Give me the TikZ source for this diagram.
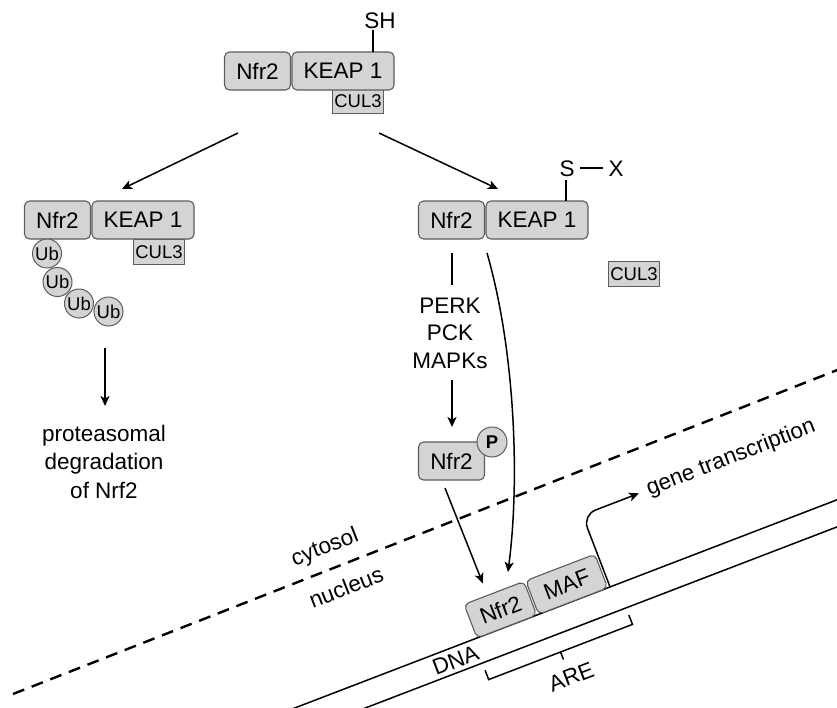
\documentclass[tikz,border=0pt]{standalone}
\usepackage{fontspec}
\setmainfont{Liberation Sans}
\usetikzlibrary{arrows.meta,calc}
\definecolor{boxfill}{HTML}{D4D4D4}
\definecolor{boxline}{HTML}{5C5C5C}
\newcommand\mainsize{\fontsize{22.5}{27}\selectfont}
\newcommand\culsize{\fontsize{18.5}{20}\selectfont}
\newcommand\ubsize{\fontsize{18.5}{20}\selectfont}
\tikzset{
  box/.style={draw=boxline, fill=boxfill, rounded corners=5pt, line width=1.1pt,
    minimum height=38pt, inner sep=0pt, font=\mainsize},
  culbox/.style={draw=boxline, fill=boxfill, line width=1.1pt, minimum width=51pt,
    minimum height=25pt, inner sep=0pt, font=\culsize},
  ub/.style={circle, draw=boxline, fill=boxfill, line width=1pt, minimum size=29pt,
    inner sep=0pt, font=\ubsize},
  lbl/.style={inner sep=0pt, font=\mainsize},
  arr/.style={-{Stealth[length=10pt,width=9pt,inset=2.5pt]}, line width=1.5pt},
  ln/.style={line width=1.5pt},
  membrane/.style={line width=2.4pt, dash pattern=on 12pt off 8pt},
}
\begin{document}
\begin{tikzpicture}[x=1pt,y=-1pt]
\useasboundingbox (0,0) rectangle (837,707);
\clip (0,0) rectangle (837,707);

% ---------- top complex ----------
\node[culbox] (tcul) at (358,101) {CUL3};
\node[box, minimum width=66pt] (tnfr) at (257.5,71) {Nfr2};
\node[box, minimum width=102pt] (tkeap) at (343,71) {KEAP 1};
\node[lbl] (sh) at (380,21) {SH};
\coordinate (shb) at (373,52);
\coordinate (sht) at (373,30);
\draw[ln] (shb) -- (sht);

% ---------- left complex ----------
\node[culbox] (lcul) at (159,252) {CUL3};
\node[box, minimum width=66pt] (lnfr) at (57.5,220) {Nfr2};
\node[box, minimum width=102pt] (lkeap) at (143,220) {KEAP 1};
\node[ub] (ub1) at (47,253.5) {Ub};
\node[ub] (ub2) at (57.5,282) {Ub};
\node[ub] (ub3) at (79,303.5) {Ub};
\node[ub] (ub4) at (108.5,311.5) {Ub};

% ---------- right complex ----------
\node[box, minimum width=66pt] (rnfr) at (451.5,220) {Nfr2};
\node[box, minimum width=102pt] (rkeap) at (537,220) {KEAP 1};
\node[lbl] (s) at (567,169) {S};
\node[lbl] (x) at (616,169) {X};
\coordinate (sb) at (566,201);
\coordinate (st) at (566,180);
\draw[ln] (sb) -- (st);
\coordinate (dxa) at (580,168);
\coordinate (dxb) at (603,168);
\draw[ln] (dxa) -- (dxb);
\node[culbox] (rcul) at (634,274) {CUL3};

% ---------- top arrows ----------
\coordinate (tl) at (238,133);
\coordinate (tr) at (379,133);
\coordinate (el) at (122,189);
\coordinate (er) at (498,189);
\draw[arr] (tl) -- (el);
\draw[arr] (tr) -- (er);

% ---------- degradation ----------
\coordinate (da) at (105,348);
\coordinate (db) at (105,406);
\draw[arr] (da) -- (db);
\node[lbl, anchor=base] (deg1) at (104,441) {proteasomal};
\node[lbl, anchor=base] (deg2) at (104,469.5) {degradation};
\node[lbl, anchor=base] (deg3) at (104,498) {of Nrf2};

% ---------- kinases ----------
\coordinate (ka) at (452,253);
\coordinate (kb) at (452,285);
\draw[ln] (ka) -- (kb);
\node[lbl, anchor=base] (perk) at (450,313) {PERK};
\node[lbl, anchor=base] (pck) at (450,340) {PCK};
\node[lbl, anchor=base] (mapk) at (450,368) {MAPKs};
\coordinate (ma) at (452,380);
\coordinate (mb) at (452,427);
\draw[arr] (ma) -- (mb);
\node[box, minimum width=66pt] (pnfr) at (451.5,461) {Nfr2};
\node[ub, minimum size=30pt, font=\ubsize\bfseries] (pp) at (492,442) {P};

% ---------- membrane ----------
\coordinate (m1) at (13,694);
\coordinate (m2) at (850,365);
\draw[membrane] (m1) -- (m2);
\node[lbl, rotate=21.4] (cyt) at (325,548) {cytosol};
\node[lbl, rotate=21.4] (nuc) at (346,587) {nucleus};

% ---------- nucleus / DNA ----------
\begin{scope}[shift={(477,638)}, rotate=21, transform shape]
  \coordinate (u1) at (-260,0);
  \coordinate (u2) at (420,0);
  \coordinate (l1) at (-260,25.3);
  \coordinate (l2) at (420,25.3);
  \draw[ln] (u1) -- (u2);
  \draw[ln] (l1) -- (l2);
  \node[box, minimum width=64pt, minimum height=36pt] (dnfr) at (32,-18) {Nfr2};
  \node[box, minimum width=74pt, minimum height=36pt] (maf) at (103,-18) {MAF};
  \coordinate (ga) at (142.5,0);
  \coordinate (gc) at (142.5,-77);
  \coordinate (gb) at (203,-77);
  \draw[arr, rounded corners=14pt] (ga) -- (gc) -- (gb);
  \node[lbl, anchor=west] (gene) at (212,-77) {gene transcription};
  \node[lbl] (dna) at (-28,13) {DNA};
  \coordinate (b1) at (-4,33);
  \coordinate (b2) at (-4,43);
  \coordinate (b3) at (150,43);
  \coordinate (b4) at (150,33);
  \draw[ln] (b1) -- (b2) -- (b3) -- (b4);
  \coordinate (t1) at (73,43);
  \coordinate (t2) at (73,51);
  \draw[ln] (t1) -- (t2);
  \node[lbl] (are) at (74,70) {ARE};
  \coordinate (tipA) at (25,-49);
  \coordinate (tipB) at (52.5,-50.5);
\end{scope}

% ---------- transport arrows ----------
\coordinate (pa) at (445,488);
\draw[arr] (pa) -- (tipA);
\coordinate (ca) at (487,253);
\draw[arr] (ca) .. controls (515,350) and (520,480) .. (tipB);
\end{tikzpicture}
\end{document}
